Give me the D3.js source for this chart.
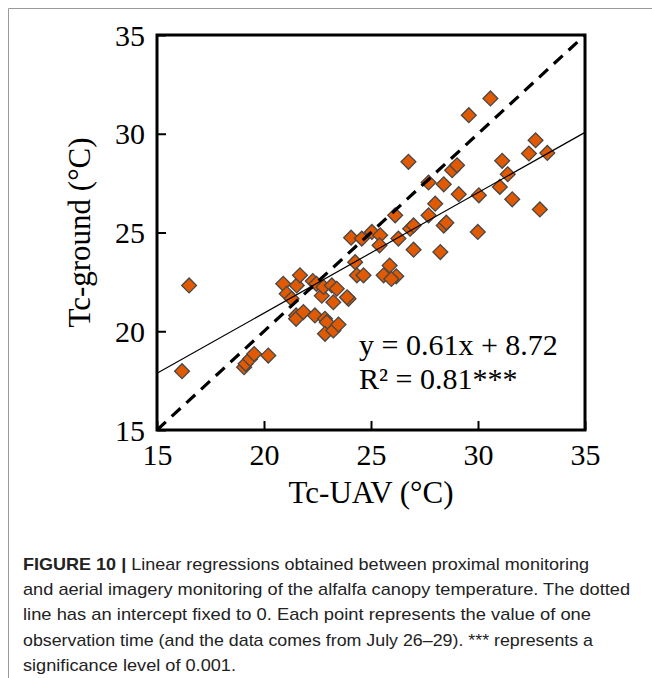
<!DOCTYPE html>
<html>
<head>
<meta charset="utf-8">
<script src="https://cdn.jsdelivr.net/npm/d3@7"></script>
<style>
  html, body { margin: 0; padding: 0; background: #fff; }
  svg { display: block; }
</style>
</head>
<body>
<svg id="fig" width="652" height="678"></svg>
<script>
// Canopy temperature: UAV thermal imagery (x) vs. ground measurement (y), °C
const tcUAV = [
  16.50, 16.17, 19.07, 19.14, 19.35, 19.54, 20.20,
  20.90, 21.06, 21.29, 21.53, 21.68, 21.50, 21.50, 21.84, 22.28, 22.45, 22.38,
  22.70, 22.78, 23.17, 23.40, 23.24, 23.95, 23.88, 22.85, 22.93, 22.85, 23.24, 23.48,
  24.07, 24.57, 25.04, 25.43, 25.40, 24.26, 24.34, 24.65, 25.59, 25.87, 26.18, 25.95,
  26.13, 26.28, 26.75, 26.99, 26.83, 26.99, 27.69, 28.00, 27.69, 28.40, 28.24, 28.40,
  28.52, 28.79, 29.02, 29.10, 29.57, 30.04, 29.99, 30.58, 31.02, 31.13, 31.39, 31.60,
  32.38, 32.69, 33.24, 32.89
];
const tcGround = [
  22.32, 17.98, 18.18, 18.35, 18.60, 18.85, 18.77,
  22.40, 21.90, 21.64, 22.32, 22.83, 20.80, 20.63, 20.97, 22.54, 22.40, 20.80,
  21.80, 22.24, 22.32, 22.15, 21.47, 21.64, 21.72, 20.63, 20.46, 19.87, 20.04, 20.34,
  24.74, 24.69, 25.03, 24.86, 24.35, 23.50, 22.83, 22.83, 22.83, 23.33, 22.78, 22.65,
  25.87, 24.69, 28.58, 24.13, 25.19, 25.36, 25.87, 26.46, 27.53, 27.44, 24.01, 25.35,
  25.50, 28.15, 28.40, 26.94, 30.94, 26.88, 25.03, 31.79, 27.31, 28.63, 27.95, 26.68,
  29.00, 29.67, 29.03, 26.17
];

// Fitted regression and the 1:1 reference line
const fitSlope = 0.61;
const fitIntercept = 8.72;
const rSquared = 0.81;
const axisTicks = [15, 20, 25, 30, 35];
const axisDomain = [15, 35];

const captionLines = [
  { bold: "FIGURE 10 | ", text: "Linear regressions obtained between proximal monitoring", width: 566 },
  { bold: "", text: "and aerial imagery monitoring of the alfalfa canopy temperature. The dotted", width: 607 },
  { bold: "", text: "line has an intercept fixed to 0. Each point represents the value of one", width: 568 },
  { bold: "", text: "observation time (and the data comes from July 26\u201329). *** represents a", width: 570 },
  { bold: "", text: "significance level of 0.001.", width: 213 }
];

const svg = d3.select("#fig");
const serif = "'Liberation Serif', 'Times New Roman', serif";

// Outer figure frame (top and left edges)
svg.append("path")
  .attr("d", "M8.5,678 V8.5 H652")
  .attr("fill", "none")
  .attr("stroke", "#9a9a9a")
  .attr("stroke-width", 1);

const plot = { left: 157, right: 585, top: 35, bottom: 430 };
const x = d3.scaleLinear().domain(axisDomain).range([plot.left, plot.right]);
const y = d3.scaleLinear().domain(axisDomain).range([plot.bottom, plot.top]);

const g = svg.append("g");

// Axes with inward ticks
const xAxis = g.append("g")
  .attr("transform", `translate(0,${plot.bottom})`)
  .call(d3.axisBottom(x).tickValues(axisTicks).tickSizeInner(-9).tickSizeOuter(0).tickPadding(20));
const yAxis = g.append("g")
  .attr("transform", `translate(${plot.left},0)`)
  .call(d3.axisLeft(y).tickValues(axisTicks).tickSizeInner(-9).tickSizeOuter(0).tickPadding(12));

[xAxis, yAxis].forEach(a => {
  a.select(".domain").remove();
  a.selectAll(".tick line").attr("stroke", "#000").attr("stroke-width", 2);
  a.selectAll(".tick text")
    .attr("font-family", serif)
    .attr("font-size", 30)
    .attr("fill", "#000");
});
xAxis.selectAll(".tick text").attr("dy", "0.71em").attr("y", 14);
yAxis.selectAll(".tick text").attr("dy", "0.34em");

// Data markers (diamonds)
const diamond = d3.symbol().type(d3.symbolSquare).size(110);
g.append("g")
  .selectAll("path")
  .data(tcUAV.map((v, i) => [v, tcGround[i]]))
  .join("path")
  .attr("d", diamond)
  .attr("transform", d => `translate(${x(d[0])},${y(d[1])}) rotate(45)`)
  .attr("fill", "#e05a04")
  .attr("stroke", "#474747")
  .attr("stroke-width", 1.3);

// 1:1 line (intercept fixed to 0)
g.append("line")
  .attr("x1", x(axisDomain[0])).attr("y1", y(axisDomain[0]))
  .attr("x2", x(axisDomain[1])).attr("y2", y(axisDomain[1]))
  .attr("stroke", "#000")
  .attr("stroke-width", 3.2)
  .attr("stroke-dasharray", "12,8");

// Least-squares fit line
g.append("line")
  .attr("x1", x(axisDomain[0])).attr("y1", y(fitSlope * axisDomain[0] + fitIntercept))
  .attr("x2", x(axisDomain[1])).attr("y2", y(fitSlope * axisDomain[1] + fitIntercept))
  .attr("stroke", "#000")
  .attr("stroke-width", 1.2);

// Plot border
g.append("rect")
  .attr("x", plot.left).attr("y", plot.top)
  .attr("width", plot.right - plot.left).attr("height", plot.bottom - plot.top)
  .attr("fill", "none")
  .attr("stroke", "#000")
  .attr("stroke-width", 3);

// Equation annotation
const eq = g.append("text")
  .attr("font-family", serif)
  .attr("font-size", 30)
  .attr("fill", "#000");
eq.append("tspan").attr("x", 359).attr("y", 355)
  .text(`y = ${fitSlope.toFixed(2)}x + ${fitIntercept.toFixed(2)}`);
eq.append("tspan").attr("x", 359).attr("y", 389)
  .text(`R\u00b2 = ${rSquared.toFixed(2)}***`);

// Axis titles
g.append("text")
  .attr("x", x(25)).attr("y", 503)
  .attr("text-anchor", "middle")
  .attr("font-family", serif)
  .attr("font-size", 31)
  .text("Tc-UAV (\u00b0C)");
g.append("text")
  .attr("transform", `translate(90,${(plot.top + plot.bottom) / 2}) rotate(-90)`)
  .attr("text-anchor", "middle")
  .attr("font-family", serif)
  .attr("font-size", 31)
  .text("Tc-ground (\u00b0C)");

// Caption
const cap = svg.append("g")
  .attr("font-family", "'Liberation Sans', Arial, sans-serif")
  .attr("font-size", 17)
  .attr("fill", "#222");
captionLines.forEach((ln, i) => {
  const t = cap.append("text")
    .attr("x", 23)
    .attr("y", 570 + i * 25.2)
    .attr("textLength", ln.width)
    .attr("lengthAdjust", "spacingAndGlyphs");
  if (ln.bold) t.append("tspan").attr("font-weight", "bold").text(ln.bold);
  t.append("tspan").text(ln.text);
});
</script>
</body>
</html>
